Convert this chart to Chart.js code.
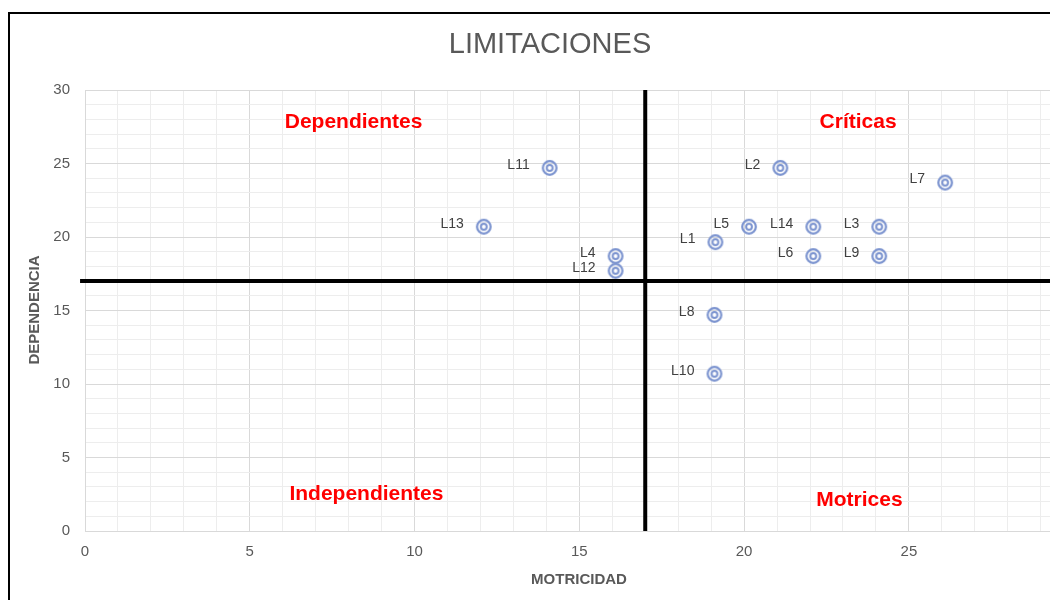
<!DOCTYPE html>
<html>
<head>
<meta charset="utf-8">
<script src="https://cdn.jsdelivr.net/npm/chart.js@4.4.1/dist/chart.umd.min.js"></script>
<style>
  html, body { margin: 0; padding: 0; background: #fff; overflow: hidden; width: 1050px; height: 600px; }
  #wrap { position: absolute; left: 0; top: 0; }
  #frame { position: absolute; left: 8px; top: 12px; width: 2000px; height: 2000px;
           border-left: 2px solid #000; border-top: 2px solid #000; pointer-events: none; }
</style>
</head>
<body>
<div id="wrap"><canvas id="myChart" width="1094" height="600"></canvas></div>
<div id="frame"></div>
<script>
// point names and coordinates
var names = ["L1","L2","L3","L4","L5","L6","L7","L8","L9","L10","L11","L12","L13","L14"];
var motricidad  = [19.13, 21.1, 24.1, 16.1, 20.15, 22.1, 26.1, 19.1, 24.1, 19.1, 14.1, 16.1, 12.1, 22.1];
var dependencia = [19.65, 24.7, 20.7, 18.7, 20.7, 18.7, 23.7, 14.7, 18.7, 10.7, 24.7, 17.7, 20.7, 20.7];

// quadrant split and quadrant names
var cut = 17;
var quadrantNames = ["Dependientes", "Críticas", "Independientes", "Motrices"];
var quadrantX = [8.15, 23.46, 8.54, 23.5];
var quadrantY = [27.8, 27.8, 2.5, 2.1];

var axisMin = 0, axisMax = 30;
var xTicks = [0, 5, 10, 15, 20, 25, 30];
var yTicks = [0, 5, 10, 15, 20, 25, 30];

// double ring marker
function makeMarker(){
    var c = document.createElement('canvas');
    c.width = 20; c.height = 20;
    var g = c.getContext('2d');
    g.strokeStyle = '#7b93cf';
    g.lineWidth = 2.2;
    g.beginPath(); g.arc(10, 10, 6.8, 0, Math.PI*2); g.stroke();
    g.lineWidth = 2;
    g.beginPath(); g.arc(10, 10, 2.9, 0, Math.PI*2); g.stroke();
    return c;
}

var points = names.map(function(n, i){ return {x: motricidad[i], y: dependencia[i]}; });

var decorations = {
    id: 'decorations',
    afterDatasetsDraw: function(chart){
        var ctx = chart.ctx;
        var xs = chart.scales.x, ys = chart.scales.y;
        ctx.save();
        // point labels
        var meta = chart.getDatasetMeta(2);
        ctx.font = '14px "Liberation Sans", Arial, sans-serif';
        ctx.fillStyle = '#404040';
        ctx.textAlign = 'right';
        ctx.textBaseline = 'middle';
        meta.data.forEach(function(el, i){
            ctx.fillText(names[i], el.x - 20, el.y - 3);
        });
        // quadrant names
        ctx.font = 'bold 21px "Liberation Sans", Arial, sans-serif';
        ctx.fillStyle = '#ff0000';
        ctx.textAlign = 'center';
        quadrantNames.forEach(function(q, i){
            ctx.fillText(q, xs.getPixelForValue(quadrantX[i]), ys.getPixelForValue(quadrantY[i]));
        });
        // title
        ctx.font = '29px "Liberation Sans", Arial, sans-serif';
        ctx.fillStyle = '#595959';
        ctx.fillText('LIMITACIONES', 550, 45);
        // axis titles
        ctx.font = 'bold 15px "Liberation Sans", Arial, sans-serif';
        ctx.fillText('MOTRICIDAD', 579, 580);
        ctx.translate(35, 310);
        ctx.rotate(-Math.PI/2);
        ctx.fillText('DEPENDENCIA', 0, 0);
        ctx.restore();
    }
};

function gridColor(c){
    return (c.tick && c.tick.value % 5 === 0) ? '#d9d9d9' : '#ededed';
}

var canvas = document.getElementById('myChart').getContext('2d');
var myChart = new Chart(canvas, {
    type: 'scatter',
    data: {
        datasets: [{
            label: 'vertical',
            data: [{x: cut, y: axisMin}, {x: cut, y: axisMax}],
            showLine: true, borderColor: '#000', borderWidth: 4, pointRadius: 0, clip: false
        }, {
            label: 'horizontal',
            data: [{x: -0.15, y: cut}, {x: axisMax, y: cut}],
            showLine: true, borderColor: '#000', borderWidth: 4, pointRadius: 0, clip: false
        }, {
            label: 'Limitaciones',
            data: points,
            pointStyle: makeMarker(),
            pointRadius: 9
        }]
    },
    options: {
        responsive: false,
        animation: false,
        layout: { padding: { top: 90, left: 0, right: 10, bottom: 0 } },
        plugins: { legend: { display: false }, tooltip: { enabled: false }, title: { display: false } },
        scales: {
            x: {
                type: 'linear', min: axisMin, max: axisMax,
                afterFit: function(s){ s.height = 69; },
                ticks: {
                    stepSize: 1, autoSkip: false, maxRotation: 0, padding: 12,
                    color: '#595959', font: { family: '"Liberation Sans", Arial, sans-serif', size: 15 },
                    callback: function(v){ return xTicks.indexOf(v) >= 0 ? v : ''; }
                },
                grid: { color: gridColor, drawTicks: false },
                border: { color: '#d9d9d9' }
            },
            y: {
                type: 'linear', min: axisMin, max: axisMax,
                afterFit: function(s){ s.width = 85; },
                ticks: {
                    stepSize: 1, autoSkip: false, padding: 15,
                    color: '#595959', font: { family: '"Liberation Sans", Arial, sans-serif', size: 15 },
                    callback: function(v){ return yTicks.indexOf(v) >= 0 ? v : ''; }
                },
                grid: { color: gridColor, drawTicks: false },
                border: { color: '#d9d9d9' }
            }
        }
    },
    plugins: [decorations]
});
</script>
</body>
</html>
